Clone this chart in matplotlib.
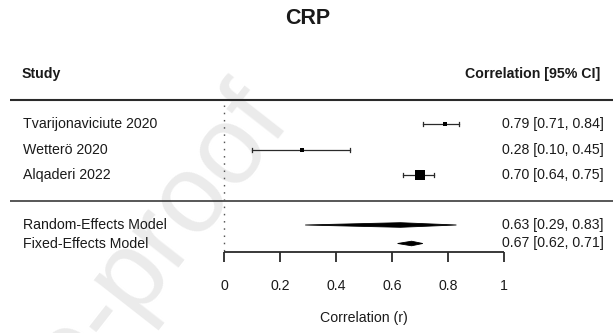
import matplotlib
matplotlib.use("Agg")
import matplotlib.pyplot as plt

# ---- data ----
title = "CRP"
studies = ["Tvarijonaviciute 2020", "Wetterö 2020", "Alqaderi 2022"]
study_est = [0.79, 0.28, 0.70]
study_lo = [0.71, 0.10, 0.64]
study_hi = [0.84, 0.45, 0.75]
study_weight_marker = [2.9, 2.4, 7.0]   # marker sizes (pt), reflecting study weight

models = ["Random-Effects Model", "Fixed-Effects Model"]
model_est = [0.63, 0.67]
model_lo = [0.29, 0.62]
model_hi = [0.83, 0.71]

xticks = [0, 0.2, 0.4, 0.6, 0.8, 1]
xtick_labels = ["0", "0.2", "0.4", "0.6", "0.8", "1"]
xlabel = "Correlation (r)"
left_header = "Study"
right_header = "Correlation [95% CI]"
watermark = "Journal Pre-proof"

# ---- layout (pixels) ----
W, H = 613, 333
X0_PX, X1_PX = 224, 504          # pixel position of r=0 and r=1
study_y = [124, 150, 175]
model_y = [225, 243.5]
top_line_y = 99.5
sep_line_y = 200.5
axis_y = 252
tick_len = 10
ticklabel_y = 286
xlabel_y = 318
header_y = 74
title_y = 18

def px2x(px):
    return (px - X0_PX) / (X1_PX - X0_PX)

plt.rcParams['font.family'] = ['Liberation Sans', 'DejaVu Sans']
fig = plt.figure(figsize=(W / 100, H / 100), dpi=100)
ax = fig.add_axes([0, 0, 1, 1])
ax.set_xlim(px2x(0), px2x(W))
ax.set_ylim(H, 0)
ax.axis("off")

txt_col = "#1a1a1a"
line_col = "#2a2a2a"
fs = 10.2

# watermark
ax.text(px2x(292), 122, watermark, rotation=52, rotation_mode="anchor",
        ha="right", va="baseline", fontsize=80, color="#ebebeb", zorder=0,
        clip_on=True)

# title & headers
ax.text(px2x(308), title_y, title, ha="center", va="center",
        fontsize=15.5, fontweight="bold", color=txt_col)
ax.text(px2x(22), header_y, left_header, ha="left", va="center",
        fontsize=fs, fontweight="bold", color=txt_col)
ax.text(px2x(600), header_y, right_header, ha="right", va="center",
        fontsize=fs, fontweight="bold", color=txt_col)

# horizontal rules
ax.plot([px2x(10), px2x(W)], [top_line_y, top_line_y], color=line_col, lw=1.5,
        solid_capstyle="butt")
ax.plot([px2x(10), px2x(W)], [sep_line_y, sep_line_y], color=line_col, lw=1.1,
        solid_capstyle="butt")

# reference line at 0
ax.plot([0, 0], [105, axis_y], color="#555555", lw=1.0,
        linestyle=(0, (1.1, 4.1)))

# studies
cap_h = 2.2
for name, e, lo, hi, ms, y in zip(studies, study_est, study_lo, study_hi,
                                  study_weight_marker, study_y):
    ax.plot([lo, hi], [y, y], color=line_col, lw=0.9)
    ax.plot([lo, lo], [y - cap_h, y + cap_h], color=line_col, lw=0.9)
    ax.plot([hi, hi], [y - cap_h, y + cap_h], color=line_col, lw=0.9)
    ax.plot([e], [y], marker="s", markersize=ms, color="black", mew=0)
    ax.text(px2x(23), y, name, ha="left", va="center", fontsize=fs, color=txt_col)
    ax.text(px2x(604), y, f"{e:.2f} [{lo:.2f}, {hi:.2f}]", ha="right",
            va="center", fontsize=fs, color=txt_col)

# summary diamonds
dh = 2.3
for name, e, lo, hi, y in zip(models, model_est, model_lo, model_hi, model_y):
    ax.fill([lo, e, hi, e], [y, y - dh, y, y + dh], color="black",
            edgecolor="black", lw=0.6)
    ax.text(px2x(23), y, name, ha="left", va="center", fontsize=fs, color=txt_col)
    ax.text(px2x(604), y, f"{e:.2f} [{lo:.2f}, {hi:.2f}]", ha="right",
            va="center", fontsize=fs, color=txt_col)

# x axis
ax.plot([xticks[0], xticks[-1]], [axis_y, axis_y], color=line_col, lw=1.3,
        solid_capstyle="butt")
for t, lab in zip(xticks, xtick_labels):
    ax.plot([t, t], [axis_y, axis_y + tick_len], color=line_col, lw=1.3,
            solid_capstyle="butt")
    ax.text(t, ticklabel_y, lab, ha="center", va="center", fontsize=fs,
            color=txt_col)
ax.text(0.5, xlabel_y, xlabel, ha="center", va="center", fontsize=fs,
        color=txt_col)

fig.savefig("out.png", dpi=100)
